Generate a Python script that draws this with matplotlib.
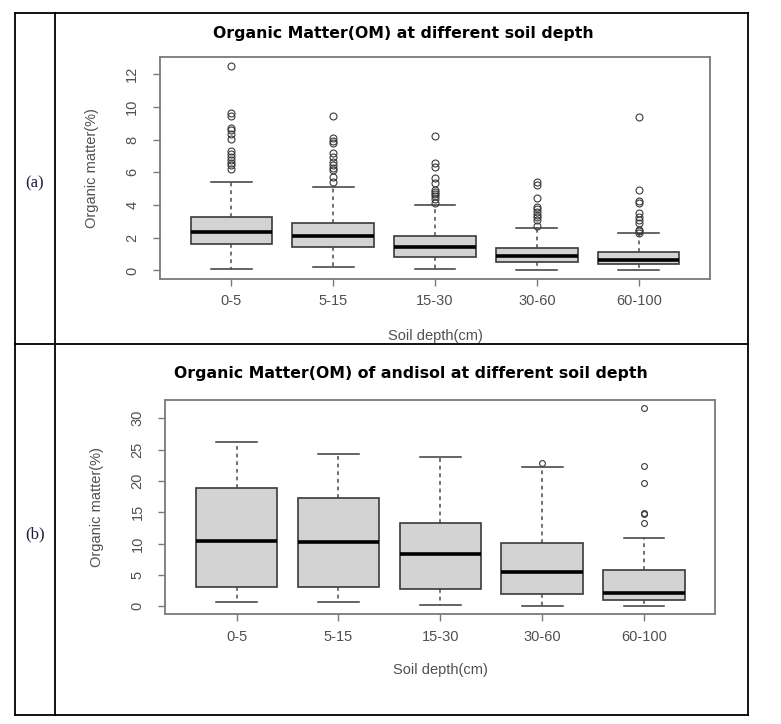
import numpy as np
import matplotlib
matplotlib.use("Agg")
import matplotlib.pyplot as plt
from matplotlib.lines import Line2D

# soil depth classes
depths = ["0-5", "5-15", "15-30", "30-60", "60-100"]

# (a) all soils, organic matter (%)
om_q1 = [1.59, 1.45, 0.81, 0.51, 0.37]
om_med = [2.34, 2.10, 1.45, 0.90, 0.63]
om_q3 = [3.24, 2.93, 2.12, 1.38, 1.12]
om_lo = [0.12, 0.22, 0.08, 0.00, 0.04]
om_hi = [5.44, 5.13, 4.01, 2.61, 2.28]
om_out = [
    [12.5, 9.61, 9.47, 8.74, 8.61, 8.33, 8.07, 7.31, 7.15, 6.94, 6.74, 6.58, 6.44, 6.23],
    [9.47, 8.13, 7.90, 7.80, 7.19, 6.94, 6.64, 6.42, 6.29, 6.17, 5.72, 5.40],
    [8.25, 6.56, 6.31, 5.68, 5.32, 4.91, 4.79, 4.66, 4.54, 4.38, 4.13],
    [5.38, 5.25, 4.42, 3.89, 3.73, 3.56, 3.40, 3.24, 3.08, 2.75],
    [9.39, 4.95, 4.26, 4.13, 3.54, 3.24, 3.08, 2.91, 2.50, 2.42, 2.32],
]

# (b) andisol, organic matter (%)
an_q1 = [3.11, 3.11, 2.74, 1.90, 1.05]
an_med = [10.49, 10.23, 8.33, 5.43, 2.06]
an_q3 = [18.92, 17.34, 13.28, 10.07, 5.75]
an_lo = [0.74, 0.63, 0.16, 0.05, 0.05]
an_hi = [26.15, 24.35, 23.88, 22.14, 10.96]
an_out = [[], [], [], [22.88], [31.58, 22.35, 19.66, 14.92, 14.71, 13.34]]

W, H = 781, 724
fig = plt.figure(figsize=(W / 100, H / 100), dpi=100)

axis_col = "#7a7a7a"
text_col = "#505050"


def make_stats(q1, med, q3, lo, hi, out):
    res = []
    for i in range(len(q1)):
        res.append({"q1": q1[i], "med": med[i], "q3": q3[i],
                    "whislo": lo[i], "whishi": hi[i], "fliers": out[i]})
    return res


def draw(rect, stats, ymax, yticks, title, title_xy, msize):
    ax = fig.add_axes(rect)
    ax.bxp(stats, positions=range(1, 6), widths=0.8, patch_artist=True,
           boxprops=dict(facecolor="#d3d3d3", edgecolor="#3a3a3a", linewidth=1.2),
           medianprops=dict(color="black", linewidth=2.6),
           whiskerprops=dict(color="#4a4a4a", linestyle=(0, (2.5, 2.5)), linewidth=1.1),
           capprops=dict(color="#3a3a3a", linewidth=1.1),
           capwidths=0.4,
           flierprops=dict(marker="o", markersize=msize, markerfacecolor="none",
                           markeredgecolor="#3a3a3a", markeredgewidth=0.8))
    ax.set_xlim(0.3, 5.7)
    ax.set_ylim(-0.04 * ymax, 1.04 * ymax)
    ax.set_xticks(range(1, 6))
    ax.set_xticklabels(depths)
    ax.set_yticks(yticks)
    ax.set_yticklabels([str(t) for t in yticks], rotation=90, va="center")
    for s in ax.spines.values():
        s.set_color(axis_col)
        s.set_linewidth(1.3)
    ax.tick_params(axis="both", direction="out", length=5, width=1.0,
                   color=axis_col, labelcolor=text_col, labelsize=10.5)
    ax.tick_params(axis="x", pad=6)
    ax.tick_params(axis="y", pad=10)
    for lab in ax.get_xticklabels() + ax.get_yticklabels():
        lab.set_family("Liberation Sans")
    ax.set_xlabel("Soil depth(cm)", fontsize=10.5, color=text_col, family="Liberation Sans")
    ax.set_ylabel("Organic matter(%)", fontsize=10.5, color=text_col, family="Liberation Sans")
    ax.xaxis.set_label_coords(0.5, -0.227)
    ax.yaxis.set_label_coords(-0.111, 0.5)
    fig.text(title_xy[0] / W, 1 - title_xy[1] / H, title, ha="center", va="center",
             fontsize=11.3, fontweight="bold", family="DejaVu Sans")
    return ax


draw([160 / W, 1 - 278.7 / H, 550 / W, 222 / H],
     make_stats(om_q1, om_med, om_q3, om_lo, om_hi, om_out),
     12.57, [0, 2, 4, 6, 8, 10, 12],
     "Organic Matter(OM) at different soil depth", (403.6, 33.3), 5)

draw([165.3 / W, 1 - 614.3 / H, 550 / W, 214 / H],
     make_stats(an_q1, an_med, an_q3, an_lo, an_hi, an_out),
     31.58, [0, 5, 10, 15, 20, 25, 30],
     "Organic Matter(OM) of andisol at different soil depth", (410.6, 373.3), 4.2)

# table borders
x0, x1, xc = 15.5, 748.3, 55.3
y0, y1, ym = 12.7, 715.3, 344.0


def hline(y, xa, xb):
    fig.add_artist(Line2D([xa / W, xb / W], [1 - y / H, 1 - y / H], color="black", lw=1.3))


def vline(x, ya, yb):
    fig.add_artist(Line2D([x / W, x / W], [1 - ya / H, 1 - yb / H], color="black", lw=1.3))


hline(y0, x0, x1)
hline(ym, x0, x1)
hline(y1, x0, x1)
vline(x0, y0, y1)
vline(xc, y0, y1)
vline(x1, y0, y1)

fig.text(35 / W, 1 - 183 / H, "(a)", ha="center", va="center", fontsize=12,
         color="#1c1c3c", family="Liberation Serif")
fig.text(35 / W, 1 - 534 / H, "(b)", ha="center", va="center", fontsize=12,
         color="#1c1c3c", family="Liberation Serif")

fig.savefig("out.png", dpi=100)
